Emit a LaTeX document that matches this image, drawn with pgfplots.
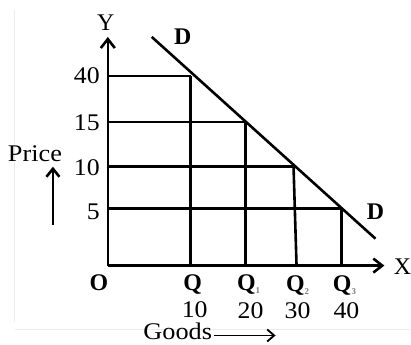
\documentclass[border=0pt]{standalone}
\usepackage{pgfplots}
\pgfplotsset{compat=1.18}
\usepackage{fontspec}
\setmainfont{Liberation Serif}
\usetikzlibrary{arrows.meta}
\begin{document}
\begin{tikzpicture}
\begin{axis}[
  hide axis, scale only axis, width=411bp, height=345bp,
  xmin=0, xmax=411, ymin=0, ymax=345, clip=false,
  ln/.style={black, solid, mark=none, line width=2.6bp},
]
\path (axis cs:0,0) rectangle (axis cs:411,345);
% faint scan edges
\addplot[gray!15, solid, mark=none, line width=1bp] coordinates {(15,335) (15,22)};
\addplot[gray!15, solid, mark=none, line width=1bp] coordinates {(15,15) (411,15)};
% axes
\addplot[ln, -{Straight Barb[length=9bp,width=14bp]}] coordinates {(108,79) (385,79)};
\addplot[ln, -{Straight Barb[length=9bp,width=14bp]}] coordinates {(108,79) (108,308)};
% horizontal price lines
\addplot[ln] coordinates {(108,269) (191,269)};
\addplot[ln] coordinates {(108,223) (246,223)};
\addplot[ln] coordinates {(108,178) (294,178)};
\addplot[ln] coordinates {(108,136) (342,136)};
% vertical quantity lines
\addplot[ln] coordinates {(191,79) (191,269)};
\addplot[ln] coordinates {(246,79) (246,223)};
\addplot[ln] coordinates {(297,79) (294,178)};
\addplot[ln] coordinates {(342,79) (342,136)};
% demand curve
\addplot[ln] coordinates {(152,308) (376,106)};
% price arrow
\addplot[ln, -{Straight Barb[length=8bp,width=13bp]}] coordinates {(53,120) (53,178)};
% goods arrow
\addplot[ln, line width=1.8bp, -{Straight Barb[length=7bp,width=12bp]}] coordinates {(214,9) (276,9)};
\begin{scope}[every node/.style={font=\fontsize{24}{28}\selectfont, inner sep=0pt}]
\node at (axis cs:106,322) {Y};
\node at (axis cs:183,308) {\bfseries D};
\node at (axis cs:376,133) {\bfseries D};
\node at (axis cs:403,78) {X};
\node[anchor=east] at (axis cs:100,269) {\scalebox{1.08}[1]{40}};
\node[anchor=east] at (axis cs:100,222) {\scalebox{1.08}[1]{15}};
\node[anchor=east] at (axis cs:100,177) {\scalebox{1.08}[1]{10}};
\node[anchor=east] at (axis cs:100,133) {\scalebox{1.08}[1]{5}};
\node at (axis cs:35,191) {\scalebox{1.1}[1]{Price}};
\node at (axis cs:99,62) {\bfseries O};
\node at (axis cs:193,60) {\bfseries Q};
\node at (axis cs:249,60) {\bfseries Q\raisebox{-3bp}{\fontsize{9}{9}\selectfont\color{gray}1}};
\node at (axis cs:298,59) {\bfseries Q\raisebox{-3bp}{\fontsize{9}{9}\selectfont\color{gray}2}};
\node at (axis cs:345,59) {\bfseries Q\raisebox{-3bp}{\fontsize{9}{9}\selectfont\color{gray}3}};
\node at (axis cs:195,35) {\scalebox{1.08}[1]{10}};
\node at (axis cs:251,34) {\scalebox{1.08}[1]{20}};
\node at (axis cs:298,34) {\scalebox{1.08}[1]{30}};
\node at (axis cs:347,34) {\scalebox{1.08}[1]{40}};
\node at (axis cs:178,13) {\scalebox{1.1}[1]{Goods}};
\end{scope}
\end{axis}
\end{tikzpicture}
\end{document}
